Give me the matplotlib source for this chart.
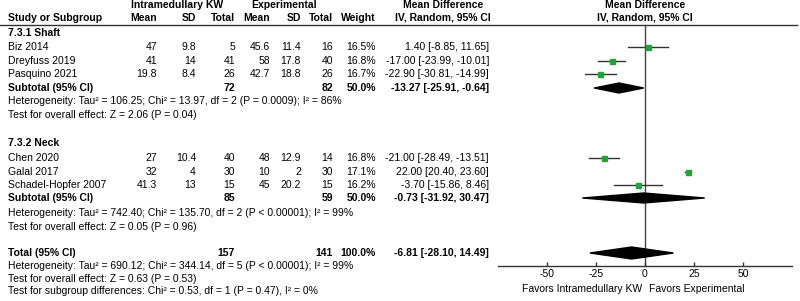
import matplotlib.pyplot as plt
from matplotlib.patches import Polygon

plt.rcParams['font.family'] = ['Liberation Sans', 'DejaVu Sans']

# ---- data ----
studies = ["Biz 2014", "Dreyfuss 2019", "Pasquino 2021",
           "Chen 2020", "Galal 2017", "Schadel-Hopfer 2007"]
exp_mean = [47, 41, 19.8, 27, 32, 41.3]
exp_sd = [9.8, 14, 8.4, 10.4, 4, 13]
exp_n = [5, 41, 26, 40, 30, 15]
ctl_mean = [45.6, 58, 42.7, 48, 10, 45]
ctl_sd = [11.4, 17.8, 18.8, 12.9, 2, 20.2]
ctl_n = [16, 40, 26, 14, 30, 15]
weights = [16.5, 16.8, 16.7, 16.8, 17.1, 16.2]
md = [1.40, -17.00, -22.90, -21.00, 22.00, -3.70]
md_lo = [-8.85, -23.99, -30.81, -28.49, 20.40, -15.86]
md_hi = [11.65, -10.01, -14.99, -13.51, 23.60, 8.46]

groups = ["7.3.1 Shaft", "7.3.2 Neck"]
sub_n1 = [72, 85]
sub_n2 = [82, 59]
sub_w = [50.0, 50.0]
sub_md = [-13.27, -0.73]
sub_lo = [-25.91, -31.92]
sub_hi = [-0.64, 30.47]
sub_het = ["Heterogeneity: Tau\u00b2 = 106.25; Chi\u00b2 = 13.97, df = 2 (P = 0.0009); I\u00b2 = 86%",
           "Heterogeneity: Tau\u00b2 = 742.40; Chi\u00b2 = 135.70, df = 2 (P < 0.00001); I\u00b2 = 99%"]
sub_z = ["Test for overall effect: Z = 2.06 (P = 0.04)",
         "Test for overall effect: Z = 0.05 (P = 0.96)"]

tot_n1, tot_n2, tot_w = 157, 141, 100.0
tot_md, tot_lo, tot_hi = -6.81, -28.10, 14.49
tot_text = ["Heterogeneity: Tau\u00b2 = 690.12; Chi\u00b2 = 344.14, df = 5 (P < 0.00001); I\u00b2 = 99%",
            "Test for overall effect: Z = 0.63 (P = 0.53)",
            "Test for subgroup differences: Chi\u00b2 = 0.53, df = 1 (P = 0.47), I\u00b2 = 0%"]

xticks = [-50, -25, 0, 25, 50]

# ---- layout (pixel rows) ----
W, H = 800, 301
fs = 7.5
study_y = [47, 61, 74, 158, 172, 185]
head_y = [33, 143]
subt_y = [88, 198]
het_y = [101, 213]
z_y = [115, 227]
tot_y = 253
tot_txt_y = [266, 279, 291]
axis_y = 266

# right edges of numeric columns
cx = dict(m1=157, s1=196, n1=235, m2=270, s2=301, n2=333, w=376, md=489)

fig = plt.figure(figsize=(8, 3.01), dpi=100)
tab = fig.add_axes([0, 0, 1, 1])
tab.set_xlim(0, W)
tab.set_ylim(H, 0)
tab.axis('off')

def t(x, y, s, ha='right', bold=False):
    tab.text(x, y, s, ha=ha, va='center', fontsize=fs,
             fontweight='bold' if bold else 'normal', color='black')

# headers
t(177, 5, "Intramedullary KW", ha='center', bold=True)
t(284, 5, "Experimental", ha='center', bold=True)
t(443, 5, "Mean Difference", ha='center', bold=True)
t(645, 5, "Mean Difference", ha='center', bold=True)
t(8, 18, "Study or Subgroup", ha='left', bold=True)
for k, lab in [('m1', 'Mean'), ('s1', 'SD'), ('n1', 'Total'), ('m2', 'Mean'),
               ('s2', 'SD'), ('n2', 'Total'), ('w', 'Weight')]:
    t(cx[k], 18, lab, bold=True)
t(443, 18, "IV, Random, 95% CI", ha='center', bold=True)
t(645, 18, "IV, Random, 95% CI", ha='center', bold=True)
tab.plot([0, 797], [25, 25], color='#333333', lw=1)

def fmt(v):
    return f"{v:g}"

for gi in range(2):
    t(8, head_y[gi], groups[gi], ha='left', bold=True)
    for j in range(3):
        i = gi * 3 + j
        y = study_y[i]
        t(8, y, studies[i], ha='left')
        t(cx['m1'], y, fmt(exp_mean[i]))
        t(cx['s1'], y, fmt(exp_sd[i]))
        t(cx['n1'], y, str(exp_n[i]))
        t(cx['m2'], y, fmt(ctl_mean[i]))
        t(cx['s2'], y, fmt(ctl_sd[i]))
        t(cx['n2'], y, str(ctl_n[i]))
        t(cx['w'], y, f"{weights[i]:.1f}%")
        t(cx['md'], y, f"{md[i]:.2f} [{md_lo[i]:.2f}, {md_hi[i]:.2f}]")
    y = subt_y[gi]
    t(8, y, "Subtotal (95% CI)", ha='left', bold=True)
    t(cx['n1'], y, str(sub_n1[gi]), bold=True)
    t(cx['n2'], y, str(sub_n2[gi]), bold=True)
    t(cx['w'], y, f"{sub_w[gi]:.1f}%", bold=True)
    t(cx['md'], y, f"{sub_md[gi]:.2f} [{sub_lo[gi]:.2f}, {sub_hi[gi]:.2f}]", bold=True)
    t(8, het_y[gi], sub_het[gi], ha='left')
    t(8, z_y[gi], sub_z[gi], ha='left')

t(8, tot_y, "Total (95% CI)", ha='left', bold=True)
t(cx['n1'], tot_y, str(tot_n1), bold=True)
t(cx['n2'], tot_y, str(tot_n2), bold=True)
t(cx['w'], tot_y, f"{tot_w:.1f}%", bold=True)
t(cx['md'], tot_y, f"{tot_md:.2f} [{tot_lo:.2f}, {tot_hi:.2f}]", bold=True)
for yy, s in zip(tot_txt_y, tot_text):
    t(8, yy, s, ha='left')

# ---- forest panel ----
ax = fig.add_axes([498 / W, 0, 294 / W, 1], sharey=tab)
ax.set_xlim(-75, 75)
ax.patch.set_alpha(0)
for sp in ['left', 'top', 'right']:
    ax.spines[sp].set_visible(False)
ax.spines['bottom'].set_position(('data', axis_y))
ax.spines['bottom'].set_color('#333333')
ax.spines['bottom'].set_linewidth(1)
ax.set_xticks(xticks)
ax.set_xticklabels([str(v) for v in xticks], fontsize=fs)
ax.tick_params(axis='x', direction='in', length=3, width=1, color='#333333', pad=2)
ax.tick_params(axis='y', left=False, labelleft=False)

ax.plot([0, 0], [25, axis_y], color='#444444', lw=1, zorder=1)

for i in range(6):
    y = study_y[i]
    ax.plot([md_lo[i], md_hi[i]], [y, y], color='#333333', lw=1, zorder=2)
    ax.plot(md[i], y, marker='s', ms=3.6, color='#22a33a', mec='#22a33a', zorder=3)

def diamond(c, lo, hi, y, h):
    ax.add_patch(Polygon([[lo, y], [c, y - h], [hi, y], [c, y + h]],
                         closed=True, color='black', zorder=4))

for gi in range(2):
    diamond(sub_md[gi], sub_lo[gi], sub_hi[gi], subt_y[gi], 5)
diamond(tot_md, tot_lo, tot_hi, tot_y, 6)

ax.text(-1.5, 289, "Favors Intramedullary KW", ha='right', va='center', fontsize=fs)
ax.text(2, 289, "Favors Experimental", ha='left', va='center', fontsize=fs)

fig.savefig("out.png", dpi=100)
